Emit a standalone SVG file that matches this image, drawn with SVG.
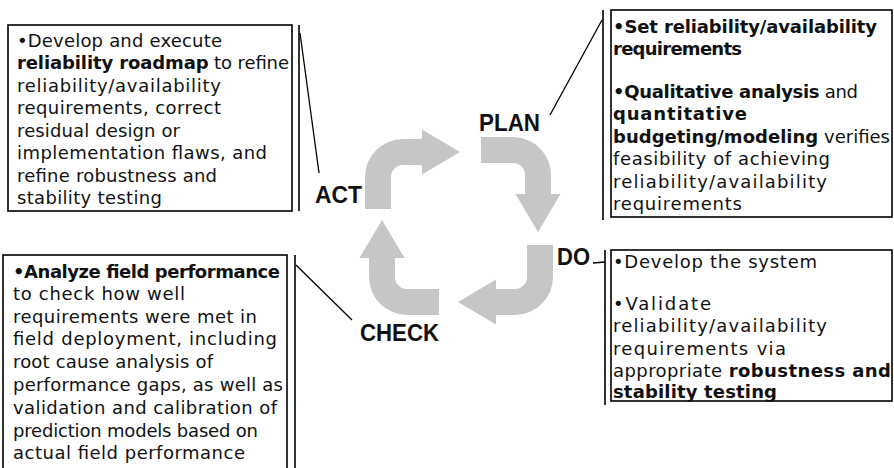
<svg xmlns="http://www.w3.org/2000/svg" width="894" height="468" viewBox="0 0 894 468">
<style>
.box{fill:#fff;stroke:#000;stroke-width:1.6}
.ln{fill:none;stroke:#000;stroke-width:1.6}
.sl{fill:none;stroke:#000;stroke-width:1.3}
.t{font-family:"DejaVu Sans",Verdana,sans-serif;font-size:18px;fill:#111}
.b{font-weight:bold}
.lab{font-family:"Liberation Sans",Arial,sans-serif;font-size:23px;font-weight:bold;fill:#111}
.arr{fill:#c6c6c6}
</style>
<defs>
<path id="bent" d="M -13,57 L -13,25 A 38 38 0 0 1 25,-13 L 44,-13 L 44,-22.5 L 82,0 L 44,22.5 L 44,13 L 25,13 A 12 12 0 0 0 13,25 L 13,57 Z"/>
</defs>
<rect width="894" height="468" fill="#fff"/>
<g id="cycle">
<use href="#bent" class="arr" transform="translate(378,152)"/>
<use href="#bent" class="arr" transform="translate(538,150) rotate(90)"/>
<use href="#bent" class="arr" transform="translate(540,302) rotate(180)"/>
<use href="#bent" class="arr" transform="translate(382,302) rotate(270)"/>
</g>
<g id="connectors">
<line class="ln" x1="299" y1="25" x2="299" y2="211"/>
<line class="sl" x1="300" y1="33" x2="319" y2="173"/>
<line class="ln" x1="603" y1="10" x2="603" y2="220"/>
<line class="sl" x1="602" y1="20" x2="550" y2="115"/>
<line class="ln" x1="605" y1="250" x2="605" y2="405"/>
<line class="sl" x1="593" y1="263" x2="605" y2="262"/>
<line class="ln" x1="295" y1="255" x2="295" y2="470"/>
<line class="sl" x1="296" y1="265" x2="352" y2="320"/>
</g>
<g id="act">
<rect class="box" x="8" y="25" width="284" height="186"/>
<text class="t" x="17" y="47" textLength="205" lengthAdjust="spacing">•Develop and execute</text>
<text class="t" x="17" y="69" textLength="272" lengthAdjust="spacing"><tspan class="b">reliability roadmap</tspan> to refine</text>
<text class="t" x="17" y="92" textLength="204" lengthAdjust="spacing">reliability/availability</text>
<text class="t" x="17" y="114" textLength="204" lengthAdjust="spacing">requirements, correct</text>
<text class="t" x="17" y="137" textLength="163" lengthAdjust="spacing">residual design or</text>
<text class="t" x="17" y="159" textLength="250" lengthAdjust="spacing">implementation flaws, and</text>
<text class="t" x="17" y="182" textLength="200" lengthAdjust="spacing">refine robustness and</text>
<text class="t" x="17" y="204" textLength="145" lengthAdjust="spacing">stability testing</text>
<text class="lab" x="315" y="203" textLength="47" lengthAdjust="spacingAndGlyphs">ACT</text>
</g>
<g id="plan">
<rect class="box" x="611" y="10" width="281" height="207"/>
<text class="t b" x="613" y="33" textLength="264" lengthAdjust="spacing">•Set reliability/availability</text>
<text class="t b" x="613" y="55" textLength="129" lengthAdjust="spacing">requirements</text>
<text class="t" x="613" y="98" textLength="245" lengthAdjust="spacing"><tspan class="b">•Qualitative analysis</tspan> and</text>
<text class="t b" x="613" y="120" textLength="134" lengthAdjust="spacing">quantitative</text>
<text class="t" x="613" y="143" textLength="277" lengthAdjust="spacing"><tspan class="b">budgeting/modeling</tspan> verifies</text>
<text class="t" x="613" y="165" textLength="217" lengthAdjust="spacing">feasibility of achieving</text>
<text class="t" x="613" y="188" textLength="214" lengthAdjust="spacing">reliability/availability</text>
<text class="t" x="613" y="210" textLength="129" lengthAdjust="spacing">requirements</text>
<text class="lab" x="479" y="131" textLength="61" lengthAdjust="spacingAndGlyphs">PLAN</text>
</g>
<g id="do">
<rect class="box" x="611" y="250" width="281" height="151"/>
<text class="t" x="613" y="268" textLength="204" lengthAdjust="spacing">•Develop the system</text>
<text class="t" x="613" y="310" textLength="98" lengthAdjust="spacing">•Validate</text>
<text class="t" x="613" y="332" textLength="214" lengthAdjust="spacing">reliability/availability</text>
<text class="t" x="613" y="355" textLength="173" lengthAdjust="spacing">requirements via</text>
<text class="t" x="613" y="377" textLength="278" lengthAdjust="spacing">appropriate <tspan class="b">robustness and</tspan></text>
<text class="t b" x="613" y="398" textLength="164" lengthAdjust="spacing">stability testing</text>
<text class="lab" x="557" y="265" textLength="33" lengthAdjust="spacingAndGlyphs">DO</text>
</g>
<g id="check">
<rect class="box" x="3" y="255" width="284" height="220"/>
<text class="t b" x="13" y="278" textLength="267" lengthAdjust="spacing">•Analyze field performance</text>
<text class="t" x="13" y="300" textLength="172" lengthAdjust="spacing">to check how well</text>
<text class="t" x="13" y="323" textLength="244" lengthAdjust="spacing">requirements were met in</text>
<text class="t" x="13" y="345" textLength="264" lengthAdjust="spacing">field deployment, including</text>
<text class="t" x="13" y="368" textLength="200" lengthAdjust="spacing">root cause analysis of</text>
<text class="t" x="13" y="391" textLength="270" lengthAdjust="spacing">performance gaps, as well as</text>
<text class="t" x="13" y="414" textLength="264" lengthAdjust="spacing">validation and calibration of</text>
<text class="t" x="13" y="437" textLength="245" lengthAdjust="spacing">prediction models based on</text>
<text class="t" x="13" y="459" textLength="232" lengthAdjust="spacing">actual field performance</text>
<text class="lab" x="360" y="341" textLength="79" lengthAdjust="spacingAndGlyphs">CHECK</text>
</g>
</svg>
